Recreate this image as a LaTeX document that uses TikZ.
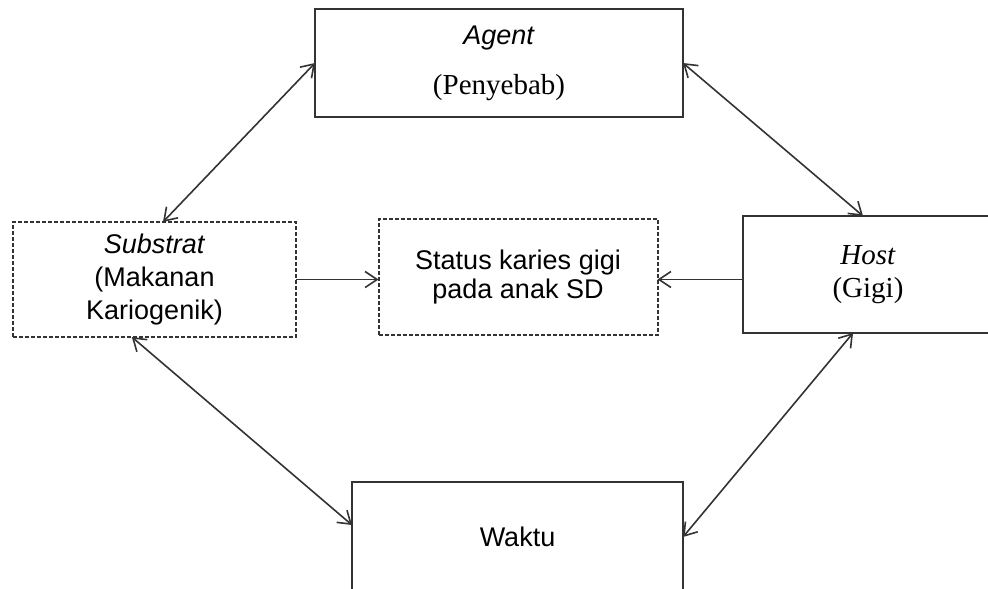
\documentclass[tikz,border=0pt]{standalone}
\usepackage{fontspec}
\setmainfont{Liberation Serif}
\setsansfont{Liberation Sans}
\usetikzlibrary{arrows.meta, calc}

\begin{document}
\begin{tikzpicture}[x=0.5pt, y=-0.5pt, >={Straight Barb[length=6pt,width=8pt]},
    font=\sffamily\fontsize{13.5}{16.5}\selectfont,
    sbox/.style={rectangle, draw=black!80, line width=1pt, outer sep=0pt,
      inner sep=2pt, align=center},
    dbox/.style={sbox, dash pattern=on 2pt off 1pt},
    link/.style={<->, line width=0.8pt, black!80},
  ]
    \clip (0,0) rectangle (988,588);

    \node[sbox, minimum width=184pt, minimum height=54pt] (agent) at (499,63)
      {\textit{Agent}\\[8.5pt]\rmfamily\fontsize{14.5}{16.5}\selectfont (Penyebab)};
    \node[dbox, minimum width=141.5pt, minimum height=57.5pt] (sub) at (154.5,279.5)
      {\textit{Substrat}\\(Makanan\\Kariogenik)};
    \node[dbox, minimum width=139.5pt, minimum height=58pt, font=\sffamily\fontsize{13.5}{14.5}\selectfont] (stat) at (518,277)
      {Status karies gigi\\pada anak SD};
    \node[sbox, minimum width=125pt, minimum height=58.5pt, font=\rmfamily\fontsize{14.5}{16.5}\selectfont] (host) at (868,274.5)
      {\textit{Host}\\(Gigi)};
    \node[sbox, minimum width=165.5pt, minimum height=55pt] (waktu) at (517.5,537) {Waktu};

    % ends of the double arrows
    \coordinate (subN)  at ($(sub.north west)!0.53!(sub.north east)$);
    \coordinate (subS)  at ($(sub.south west)!0.42!(sub.south east)$);
    \coordinate (hostN) at ($(host.north west)!0.48!(host.north east)$);
    \coordinate (hostS) at ($(host.south west)!0.44!(host.south east)$);
    \coordinate (waktuW) at ([yshift=6pt]waktu.west);

    \foreach \a/\b in {subN/agent.west, subS/waktuW, agent.east/hostN, hostS/waktu.east} {
      \draw[link] (\a) -- (\b);
    }

    \draw[->, line width=0.8pt, black!80] (sub.east) -- (sub.east -| stat.west);
    \draw[->, line width=0.8pt, black!80] (host.west |- sub.east) -- (sub.east -| stat.east);
  \end{tikzpicture}
\end{document}
